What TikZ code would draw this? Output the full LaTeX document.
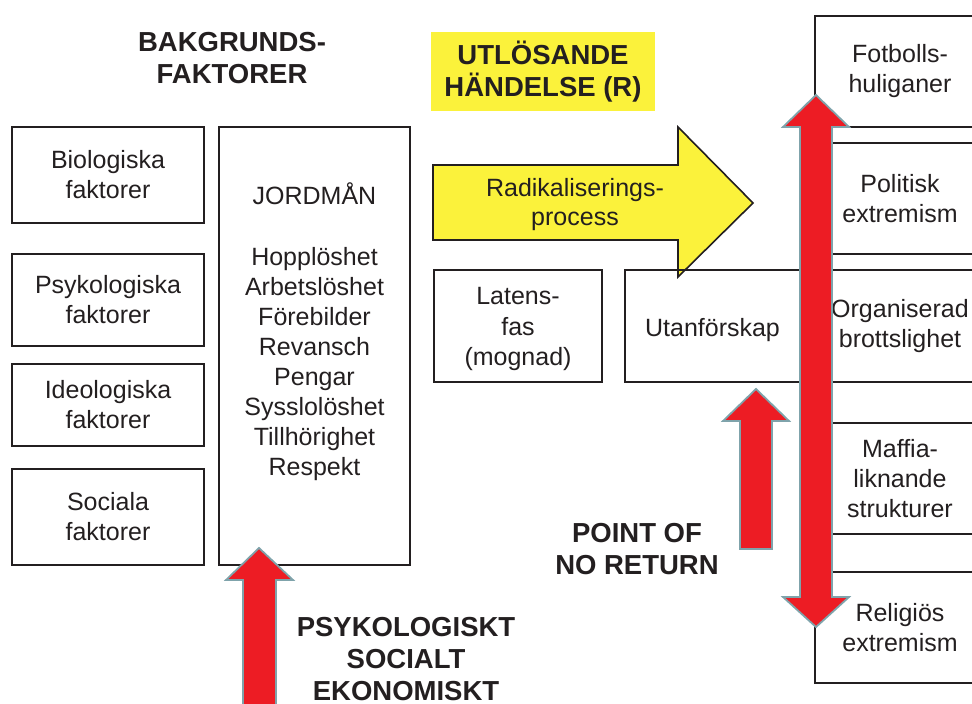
\documentclass[tikz,border=0pt]{standalone}
\usepackage{fontspec}
\setmainfont{Liberation Sans}
\usepackage{xcolor}
\usetikzlibrary{positioning}

\definecolor{txtgray}{HTML}{231F20}
\definecolor{arrowred}{HTML}{ED1C24}
\definecolor{arrowedge}{HTML}{7FA3AB}
\definecolor{signyellow}{HTML}{FBF23B}

\begin{document}
\begin{tikzpicture}[x=1pt,y=-1pt,
    every node/.style={text=txtgray,align=center,inner sep=0pt},
    plain/.style={font=\fontsize{25}{30}\selectfont},
    heading/.style={font=\fontsize{27.5}{32}\selectfont\bfseries},
    factorbox/.style={plain,draw=txtgray,line width=1.6pt,minimum width=192pt},
    sidebox/.style={plain,draw=txtgray,line width=1.6pt,minimum width=170pt,minimum height=111pt},
    redarrow/.style={fill=arrowred,draw=arrowedge,line width=1.8pt,line join=miter}]
    \useasboundingbox (0,0) rectangle (972,704);
    \clip (0,0) rectangle (972,704);

    % Background factors
    \node[heading] (bakgr) at (232,58) {BAKGRUNDS-\\FAKTORER};
    \node[factorbox,minimum height=96pt] (bio) at (108,175) {Biologiska\\faktorer};
    \node[factorbox,minimum height=92pt] (psy) at (108,300) {Psykologiska\\faktorer};
    \node[factorbox,minimum height=82pt] (ideo) at (108,405) {Ideologiska\\faktorer};
    \node[factorbox,minimum height=96pt] (soc) at (108,517) {Sociala\\faktorer};

    % Jordman column
    \node[draw=txtgray,line width=1.6pt,minimum width=191pt,minimum height=438pt] (jord) at (314.5,346) {};
    \node[plain,anchor=base] (jordtitle) at (314.5,204) {JORDMÅN};
    \foreach \w [count=\i] in {Hopplöshet,Arbetslöshet,Förebilder,Revansch,Pengar,Sysslolöshet,Tillhörighet,Respekt}
        \node[plain,anchor=base] (j\i) at (314.5,235+30.1*\i) {\w};

    % Trigger and process
    \node[heading,fill=signyellow,minimum width=224pt,minimum height=79pt] (utl) at (543,71.5) {UTLÖSANDE\\HÄNDELSE (R)};
    \draw[fill=signyellow,draw=txtgray,line width=1.6pt] (433,165) -- (678,165) -- (678,127) -- (753,203)
        -- (678,277) -- (678,240) -- (433,240) -- cycle;
    \node[font=\fontsize{25}{29}\selectfont] (radik) at (575,205) {Radikaliserings-\\process};
    \node[factorbox,minimum width=168pt,minimum height=112pt] (latens) at (518,326) {};
    \node[font=\fontsize{25}{30.5}\selectfont] (latenstxt) at (518,329) {Latens-\\fas\\(mognad)};
    \node[factorbox,minimum width=175pt,minimum height=112pt] (utan) at (712.5,326) {};
    \node[plain,anchor=base] (utantxt) at (712.5,336) {Utanförskap};

    % Outcomes
    \node[sidebox] (fotb) at (900,71.5) {Fotbolls-\\huliganer};
    \node[sidebox] (polit) at (900,198.5) {Politisk\\extremism};
    \node[sidebox,minimum height=112pt] (org) at (900,326) {Organiserad\\brottslighet};
    \node[sidebox] (maffia) at (900,478.5) {Maffia-\\liknande\\strukturer};
    \node[sidebox] (relig) at (900,627.5) {Religiös\\extremism};

    % Red arrows
    \draw[redarrow] (816,95) -- (849,127) -- (832,127) -- (832,597) -- (849,597) -- (816,627)
        -- (783,597) -- (800,597) -- (800,127) -- (783,127) -- cycle;
    \draw[redarrow] (756,389) -- (789,421) -- (772,421) -- (772,549) -- (740,549) -- (740,421) -- (723,421) -- cycle;
    \draw[redarrow] (259,548) -- (293,580) -- (276,580) -- (276,720) -- (243,720) -- (243,580) -- (226,580) -- cycle;

    \node[heading] (ponr) at (637,549) {POINT OF\\NO RETURN};
    \node[heading] (pse) at (406,659) {PSYKOLOGISKT\\SOCIALT\\EKONOMISKT};
\end{tikzpicture}
\end{document}
